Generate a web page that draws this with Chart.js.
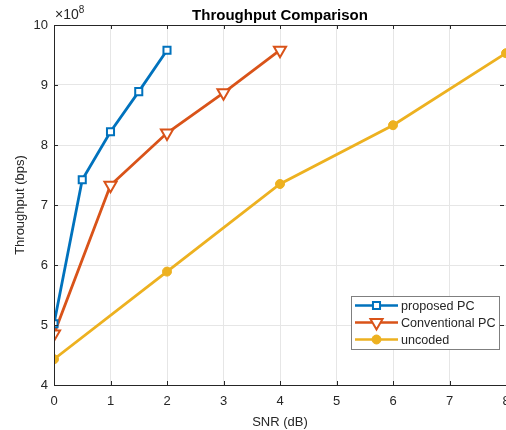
<!DOCTYPE html>
<html>
<head>
<meta charset="utf-8">
<script src="https://cdn.jsdelivr.net/npm/chart.js@4"></script>
<style>
  html, body { margin: 0; padding: 0; background: #fff; }
  #wrap { width: 506px; height: 430px; }
</style>
</head>
<body>
<div id="wrap"><canvas id="chart" width="506" height="430"></canvas></div>
<script>
// values (throughput in units of 1e8 bps)
const proposedSnr = [0, 0.5, 1, 1.5, 2];
const proposedTp = [5.02, 7.42, 8.22, 8.89, 9.58];
const conventionalSnr = [0, 1, 2, 3, 4];
const conventionalTp = [4.85, 7.33, 8.2, 8.87, 9.58];
const uncodedSnr = [0, 2, 4, 6, 8];
const uncodedTp = [4.43, 5.89, 7.35, 8.33, 9.53];

const xTicks = [0, 1, 2, 3, 4, 5, 6, 7, 8];
const yTicks = [4, 5, 6, 7, 8, 9, 10];

const seriesNames = ['proposed PC', 'Conventional PC', 'uncoded'];

const FONT = '"Liberation Sans", Arial, sans-serif';
const TEXT = '#262626';
const AXIS = '#262626';

function toPoints(xs, ys) {
    return xs.map((x, i) => ({ x: x, y: ys[i] }));
}

// box, inward ticks, exponent label and the legend, MATLAB style
const matlabBox = {
    id: 'matlabBox',
    afterDatasetsDraw(chart) {
        const { ctx, chartArea: a, scales } = chart;
        ctx.save();
        ctx.strokeStyle = AXIS;
        ctx.lineWidth = 1;
        ctx.beginPath();
        ctx.rect(a.left + 0.5, a.top + 0.5, a.right - a.left, a.bottom - a.top);
        ctx.stroke();
        ctx.beginPath();
        xTicks.forEach(v => {
            const px = Math.round(scales.x.getPixelForValue(v)) + 0.5;
            ctx.moveTo(px, a.bottom); ctx.lineTo(px, a.bottom - 4);
            ctx.moveTo(px, a.top); ctx.lineTo(px, a.top + 4);
        });
        yTicks.forEach(v => {
            const py = Math.round(scales.y.getPixelForValue(v)) + 0.5;
            ctx.moveTo(a.left, py); ctx.lineTo(a.left + 4, py);
            ctx.moveTo(a.right - 2, py); ctx.lineTo(a.right - 6, py);
        });
        ctx.stroke();

        // x10^8
        ctx.fillStyle = TEXT;
        ctx.textBaseline = 'alphabetic';
        ctx.font = '14px ' + FONT;
        ctx.fillText('\u00d710', a.left + 1, a.top - 6);
        const w = ctx.measureText('\u00d710').width;
        ctx.font = '10px ' + FONT;
        ctx.fillText('8', a.left + 1 + w, a.top - 12);

        // legend
        const lx = 351, ly = 296, lw = 148, lh = 53;
        ctx.fillStyle = '#fff';
        ctx.fillRect(lx, ly, lw, lh);
        ctx.strokeStyle = '#7f7f7f';
        ctx.strokeRect(lx + 0.5, ly + 0.5, lw, lh);
        chart.data.datasets.forEach((ds, i) => {
            const cy = ly + 9.5 + i * 17;
            ctx.strokeStyle = ds.borderColor;
            ctx.lineWidth = 2.5;
            ctx.beginPath();
            ctx.moveTo(lx + 4, cy); ctx.lineTo(lx + 47, cy);
            ctx.stroke();
            ctx.fillStyle = ds.pointBackgroundColor;
            ctx.strokeStyle = ds.pointBorderColor;
            ctx.lineWidth = ds.pointBorderWidth;
            Chart.helpers.drawPoint(ctx, {
                pointStyle: ds.pointStyle,
                rotation: ds.pointRotation || 0,
                radius: ds.pointRadius,
                borderWidth: ds.pointBorderWidth
            }, lx + 25.5, cy);
            ctx.fillStyle = TEXT;
            ctx.font = '12.6px ' + FONT;
            ctx.textBaseline = 'middle';
            ctx.fillText(seriesNames[i], lx + 50, cy + 1);
        });
        ctx.restore();
    }
};

const ctx = document.getElementById('chart').getContext('2d');

new Chart(ctx, {
    type: 'line',
    data: {
        datasets: [
            {
                label: seriesNames[0],
                data: toPoints(proposedSnr, proposedTp),
                borderColor: '#0072BD',
                borderWidth: 2.8,
                pointStyle: 'rect',
                pointRadius: 5,
                pointBorderWidth: 2,
                pointBackgroundColor: '#ffffff',
                pointBorderColor: '#0072BD'
            },
            {
                label: seriesNames[1],
                data: toPoints(conventionalSnr, conventionalTp),
                borderColor: '#D95319',
                borderWidth: 2.8,
                pointStyle: 'triangle',
                pointRotation: 180,
                pointRadius: 7,
                pointBorderWidth: 2,
                pointBackgroundColor: '#ffffff',
                pointBorderColor: '#D95319'
            },
            {
                label: seriesNames[2],
                data: toPoints(uncodedSnr, uncodedTp),
                borderColor: '#EDB120',
                borderWidth: 2.8,
                pointStyle: 'circle',
                pointRadius: 4.5,
                pointBorderWidth: 1,
                pointBackgroundColor: '#EDB120',
                pointBorderColor: '#EDB120'
            }
        ]
    },
    options: {
        responsive: false,
        animation: false,
        layout: { padding: 0, autoPadding: false },
        plugins: {
            legend: { display: false },
            tooltip: { enabled: false },
            title: {
                display: true,
                fullSize: false,
                text: 'Throughput Comparison',
                color: '#000',
                font: { family: FONT, size: 15, weight: 'bold', lineHeight: 1 },
                padding: { top: 8, bottom: 2 }
            }
        },
        scales: {
            x: {
                type: 'linear',
                min: 0,
                max: 8,
                afterBuildTicks: s => { s.ticks = xTicks.map(v => ({ value: v })); },
                afterFit: s => { s.height = 45; s.paddingLeft = 0; s.paddingRight = 0; },
                grid: { color: '#e6e6e6', drawTicks: false },
                border: { display: false },
                ticks: {
                    color: TEXT,
                    padding: 9,
                    maxRotation: 0,
                    font: { family: FONT, size: 13 }
                },
                title: {
                    display: true,
                    text: 'SNR (dB)',
                    color: TEXT,
                    padding: { top: 0, bottom: 0 },
                    font: { family: FONT, size: 13, lineHeight: 1.2 }
                }
            },
            y: {
                type: 'linear',
                min: 4,
                max: 10,
                afterBuildTicks: s => { s.ticks = yTicks.map(v => ({ value: v })); },
                afterFit: s => { s.width = 54; s.paddingTop = 0; s.paddingBottom = 0; },
                grid: { color: '#e6e6e6', drawTicks: false },
                border: { display: false },
                ticks: {
                    color: TEXT,
                    padding: 6,
                    font: { family: FONT, size: 13 }
                },
                title: {
                    display: true,
                    text: 'Throughput (bps)',
                    color: TEXT,
                    padding: { top: 13, bottom: 0 },
                    font: { family: FONT, size: 13, lineHeight: 1.2 }
                }
            }
        }
    },
    plugins: [matlabBox]
});
</script>
</body>
</html>
